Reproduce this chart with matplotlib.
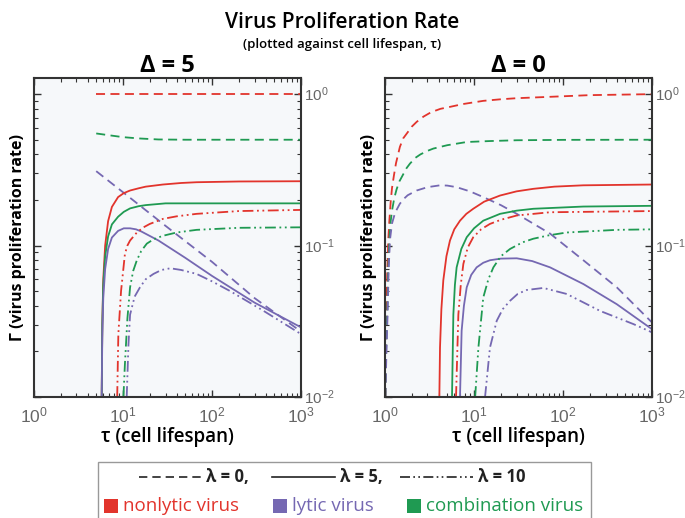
import matplotlib
matplotlib.use("Agg")
import matplotlib.pyplot as plt
from matplotlib.lines import Line2D
from matplotlib.patches import Rectangle

plt.rcParams['font.family'] = ['Open Sans', 'DejaVu Sans']
plt.rcParams['mathtext.fontset'] = 'custom'
plt.rcParams['mathtext.rm'] = 'Liberation Sans'
plt.rcParams['mathtext.it'] = 'Liberation Sans:italic'
plt.rcParams['mathtext.bf'] = 'Liberation Sans:bold'

RED = '#e2342c'
PURPLE = '#7568b2'
GREEN = '#1f9a52'

# ---- Delta = 5 panel ----
tau_d5_red_l0 = [5.0, 1000]
gam_d5_red_l0 = [1.0, 1.0]
tau_d5_grn_l0 = [5.0, 7, 10, 15, 25, 50, 1000]
gam_d5_grn_l0 = [0.55, 0.535, 0.52, 0.51, 0.502, 0.50, 0.50]
tau_d5_pur_l0 = [5.0, 10, 30, 100, 300, 1000]
gam_d5_pur_l0 = [0.31, 0.225, 0.135, 0.078, 0.045, 0.027]

tau_d5_red_l5 = [5.76, 5.85, 6.0, 6.3, 6.8, 7.5, 8.8, 10.2, 12, 15, 18, 28, 45, 67, 200, 1000]
gam_d5_red_l5 = [0.01, 0.03, 0.06, 0.1, 0.145, 0.18, 0.209, 0.222, 0.231, 0.239, 0.245, 0.253, 0.259, 0.262, 0.265, 0.266]
tau_d5_grn_l5 = [5.76, 5.85, 6.0, 6.3, 6.8, 7.5, 8.8, 10.2, 12, 15, 18, 30, 100, 1000]
gam_d5_grn_l5 = [0.01, 0.03, 0.055, 0.085, 0.115, 0.138, 0.155, 0.167, 0.176, 0.182, 0.185, 0.19, 0.19, 0.19]
tau_d5_pur_l5 = [5.76, 5.85, 6.0, 6.3, 6.8, 7.5, 8.8, 10.2, 12, 14, 16, 25, 50, 100, 300, 1000]
gam_d5_pur_l5 = [0.01, 0.025, 0.045, 0.07, 0.095, 0.113, 0.125, 0.13, 0.13, 0.128, 0.124, 0.108, 0.083, 0.063, 0.042, 0.0288]

tau_d5_red_l10 = [8.6, 8.86, 9.5, 10.5, 11.2, 12, 14.3, 17, 20, 28, 40, 67, 200, 1000]
gam_d5_red_l10 = [0.01, 0.026, 0.05, 0.088, 0.1, 0.108, 0.122, 0.132, 0.139, 0.15, 0.156, 0.162, 0.169, 0.172]
tau_d5_grn_l10 = [10.1, 10.5, 11.2, 12, 13, 14.3, 16, 18.5, 22, 28, 40, 67, 200, 1000]
gam_d5_grn_l10 = [0.01, 0.0165, 0.033, 0.053, 0.068, 0.08, 0.092, 0.103, 0.11, 0.116, 0.122, 0.127, 0.131, 0.132]
tau_d5_pur_l10 = [11, 11.5, 12, 13.5, 15.5, 18, 22, 27, 34, 45, 67, 100, 160, 380, 1000]
gam_d5_pur_l10 = [0.01, 0.022, 0.035, 0.046, 0.053, 0.06, 0.065, 0.069, 0.0708, 0.069, 0.065, 0.058, 0.05, 0.037, 0.026]

# ---- Delta = 0 panel ----
tau_d0_red_l0 = [1.01, 1.02, 1.04, 1.06, 1.09, 1.12, 1.16, 1.2, 1.26, 1.33, 1.47, 1.6, 1.8, 2.0, 2.27,
                 2.7, 3.3, 4.2, 5.37, 7.5, 12.7, 20, 30, 71, 200, 1000]
gam_d0_red_l0 = [0.01, 0.02, 0.04, 0.065, 0.11, 0.146, 0.195, 0.24, 0.29, 0.35, 0.448, 0.51, 0.56, 0.61,
                 0.656, 0.71, 0.76, 0.8, 0.824, 0.86, 0.903, 0.925, 0.94, 0.96, 0.985, 1.0]
tau_d0_grn_l0 = [1.01, 1.03, 1.06, 1.09, 1.12, 1.16, 1.2, 1.27, 1.35, 1.45, 1.6, 1.75, 1.91, 2.2, 2.5,
                 3.0, 3.49, 5, 8.28, 15, 30, 100, 1000]
gam_d0_grn_l0 = [0.01, 0.02, 0.035, 0.07, 0.11, 0.145, 0.17, 0.205, 0.235, 0.265, 0.295, 0.325, 0.348,
                 0.38, 0.40, 0.422, 0.437, 0.46, 0.483, 0.49, 0.496, 0.499, 0.50]
tau_d0_pur_l0 = [1.01, 1.04, 1.07, 1.1, 1.14, 1.2, 1.3, 1.47, 1.65, 1.8, 2.27, 3, 4.15, 5, 6.38, 9,
                 12.7, 20, 30.2, 71.4, 169, 401, 1000]
gam_d0_pur_l0 = [0.01, 0.02, 0.035, 0.07, 0.11, 0.14, 0.165, 0.189, 0.205, 0.215, 0.231, 0.243, 0.25,
                 0.249, 0.243, 0.228, 0.209, 0.185, 0.162, 0.12, 0.08, 0.053, 0.031]

tau_d0_red_l5 = [4.08, 4.15, 4.3, 4.52, 4.9, 5.37, 6, 6.96, 8.2, 9.8, 13, 19.6, 30, 46.4, 80, 169, 1000]
gam_d0_red_l5 = [0.01, 0.0212, 0.038, 0.059, 0.085, 0.108, 0.128, 0.146, 0.162, 0.175, 0.195, 0.214,
                 0.228, 0.237, 0.245, 0.25, 0.253]
tau_d0_grn_l5 = [5.66, 5.86, 6.1, 6.38, 7.2, 8.28, 10, 12.7, 19.6, 30, 46.4, 169, 1000]
gam_d0_grn_l5 = [0.01, 0.035, 0.055, 0.0718, 0.095, 0.1135, 0.13, 0.146, 0.162, 0.17, 0.175, 0.181, 0.183]
tau_d0_pur_l5 = [6.96, 7.26, 7.7, 8.28, 9.3, 10.7, 12.7, 15.1, 20, 30.2, 45, 71.4, 169, 401, 1000]
gam_d0_pur_l5 = [0.01, 0.0274, 0.04, 0.053, 0.064, 0.0718, 0.077, 0.08, 0.082, 0.0824, 0.079, 0.0718,
                 0.0557, 0.041, 0.028]

tau_d0_red_l10 = [6.28, 6.67, 7.1, 7.59, 8.5, 9.8, 12, 15.1, 20, 30.2, 71.4, 1000]
gam_d0_red_l10 = [0.01, 0.035, 0.055, 0.0757, 0.097, 0.1135, 0.128, 0.139, 0.148, 0.158, 0.166, 0.169]
tau_d0_grn_l10 = [10.3, 11.2, 12.7, 14.5, 16.5, 20, 25.4, 35, 46.4, 70, 110, 401, 1000]
gam_d0_grn_l10 = [0.01, 0.0212, 0.0454, 0.06, 0.0718, 0.085, 0.095, 0.105, 0.111, 0.117, 0.122, 0.127, 0.128]
tau_d0_pur_l10 = [13.3, 15.1, 18, 21, 25.4, 31, 39.1, 60.1, 110, 261, 617, 1000]
gam_d0_pur_l10 = [0.01, 0.0212, 0.0319, 0.038, 0.0432, 0.048, 0.0509, 0.0525, 0.0479, 0.037, 0.0303, 0.0267]

panel_titles = ['Δ = 5', 'Δ = 0']
lambda_labels = ['λ = 0,', 'λ = 5,', 'λ = 10']
virus_labels = ['nonlytic virus', 'lytic virus', 'combination virus']

DASH = (0, (5, 3))
DDOT = (0, (6, 2, 1, 2, 1, 2))
styles = [DASH, '-', DDOT]

fig = plt.figure(figsize=(6.85, 5.18), dpi=100)
ax1 = fig.add_axes([0.0496, 0.2336, 0.39, 0.616])
ax2 = fig.add_axes([0.562, 0.2336, 0.39, 0.616])

series = {
    ax1: [
        (tau_d5_red_l0, gam_d5_red_l0, RED, DASH),
        (tau_d5_grn_l0, gam_d5_grn_l0, GREEN, DASH),
        (tau_d5_pur_l0, gam_d5_pur_l0, PURPLE, DASH),
        (tau_d5_red_l5, gam_d5_red_l5, RED, '-'),
        (tau_d5_grn_l5, gam_d5_grn_l5, GREEN, '-'),
        (tau_d5_pur_l5, gam_d5_pur_l5, PURPLE, '-'),
        (tau_d5_red_l10, gam_d5_red_l10, RED, DDOT),
        (tau_d5_grn_l10, gam_d5_grn_l10, GREEN, DDOT),
        (tau_d5_pur_l10, gam_d5_pur_l10, PURPLE, DDOT),
    ],
    ax2: [
        (tau_d0_red_l0, gam_d0_red_l0, RED, DASH),
        (tau_d0_grn_l0, gam_d0_grn_l0, GREEN, DASH),
        (tau_d0_pur_l0, gam_d0_pur_l0, PURPLE, DASH),
        (tau_d0_red_l5, gam_d0_red_l5, RED, '-'),
        (tau_d0_grn_l5, gam_d0_grn_l5, GREEN, '-'),
        (tau_d0_pur_l5, gam_d0_pur_l5, PURPLE, '-'),
        (tau_d0_red_l10, gam_d0_red_l10, RED, DDOT),
        (tau_d0_grn_l10, gam_d0_grn_l10, GREEN, DDOT),
        (tau_d0_pur_l10, gam_d0_pur_l10, PURPLE, DDOT),
    ],
}

for ax, title in zip([ax1, ax2], panel_titles):
    for t, g, c, ls in series[ax]:
        ax.plot(t, g, color=c, linestyle=ls, lw=1.3)
    ax.set_xscale('log')
    ax.set_yscale('log')
    ax.set_xlim(1, 1000)
    ax.set_ylim(0.01, 1.28)
    ax.set_facecolor('#f6f8fa')
    for s in ax.spines.values():
        s.set_linewidth(1.5)
        s.set_color('#333333')
    ax.tick_params(which='both', direction='in', top=True, right=True,
                   left=True, labelleft=False, labelright=True,
                   colors='#333333', labelcolor='#666666', labelsize=11)
    ax.tick_params(which='major', length=5, width=1)
    ax.tick_params(which='minor', length=3, width=0.8)
    ax.tick_params(axis='y', pad=2)
    ax.tick_params(axis='x', pad=7, labelsize=12.5)
    ax.set_xticks([1, 10, 100, 1000])
    ax.set_yticks([0.01, 0.1, 1])
    ax.set_xticklabels(['$10^0$', '$10^1$', '$10^2$', '$10^3$'])
    ax.set_yticklabels(['$10^{-2}$', '$10^{-1}$', '$10^0$'])
    ax.set_xlabel('τ (cell lifespan)', fontsize=13.5, fontweight='semibold', labelpad=0)
    ax.set_ylabel('Γ (virus proliferation rate)', fontsize=11.5, fontweight='bold', labelpad=6)
    ax.set_title(title, fontsize=17, fontweight='bold', pad=3)

fig.text(0.5, 0.957, 'Virus Proliferation Rate', ha='center', va='center',
         fontsize=15, fontweight='semibold')
fig.text(0.5, 0.915, '(plotted against cell lifespan, τ)', ha='center', va='center',
         fontsize=9.5, fontweight='semibold')

# legend box
fig.add_artist(Rectangle((98 / 685, -0.02), 493 / 685, (518 - 462) / 518 + 0.02,
                         transform=fig.transFigure, fill=False, edgecolor='#999999', lw=1))
y1 = 1 - 477 / 518
seg = [(139, 202, 206), (272, 335, 340), (400, 473, 478)]
for (x0, x1, xt), ls, lab in zip(seg, styles, lambda_labels):
    fig.add_artist(Line2D([x0 / 685, x1 / 685], [y1, y1], color='#222222', lw=1.2,
                          linestyle=ls, transform=fig.transFigure))
    fig.text(xt / 685, y1, lab, ha='left', va='center', fontsize=12,
             fontweight='bold', color='#222222')
y2 = 1 - 506 / 518
for xs, c, lab in zip([104, 273, 407], [RED, PURPLE, GREEN], virus_labels):
    fig.add_artist(Rectangle((xs / 685, y2 - 7 / 518), 14 / 685, 14 / 518,
                             transform=fig.transFigure, color=c, lw=0))
    fig.text((xs + 19) / 685, y2, lab, ha='left', va='center', fontsize=13.5,
             fontweight='medium', color=c)

fig.savefig('out.png', dpi=100)
